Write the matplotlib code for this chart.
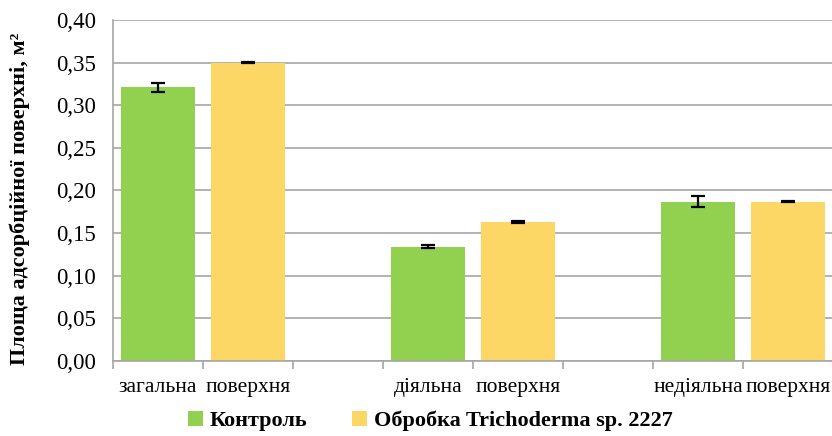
import matplotlib.pyplot as plt
from matplotlib.ticker import FixedLocator, FuncFormatter

plt.rcParams["font.family"] = ["Liberation Serif", "DejaVu Serif"]

# category slots as in the original sheet (one bar per slot)
slot_labels = ["загальна", "поверхня", "", "діяльна", "поверхня", "", "недіяльна", "поверхня"]
control_pos = [0, 3, 6]
treated_pos = [1, 4, 7]
control = [0.321, 0.134, 0.187]
control_err = [0.005, 0.002, 0.006]
treated = [0.350, 0.163, 0.187]
treated_err = [0.001, 0.0015, 0.001]

green = "#92D050"
yellow = "#FDD766"
grey = "#A6A6A6"

fig = plt.figure(figsize=(8.32, 4.36), dpi=100)
ax = fig.add_axes([113 / 832, 75 / 436, 719 / 832, 341 / 436])

err_kw = dict(ecolor="black", elinewidth=1.6, capsize=5, capthick=1.6)
ax.bar(control_pos, control, width=0.83, color=green, yerr=control_err,
       error_kw=err_kw, label="Контроль", zorder=2)
ax.bar(treated_pos, treated, width=0.83, color=yellow, yerr=treated_err,
       error_kw=err_kw, label="Обробка Trichoderma sp. 2227", zorder=2)

ax.set_xlim(-0.5, 7.49)
ax.set_ylim(0, 0.40)
ax.set_yticks([i * 0.05 for i in range(9)])
ax.yaxis.set_major_formatter(FuncFormatter(lambda v, _: f"{v:.2f}".replace(".", ",")))
ax.yaxis.grid(True, color=grey, linewidth=1.2, zorder=0)
ax.set_axisbelow(True)

ax.set_xticks(range(len(slot_labels)))
ax.set_xticklabels(slot_labels)
ax.xaxis.set_minor_locator(FixedLocator([i - 0.5 for i in range(len(slot_labels) + 1)]))
ax.tick_params(axis="x", which="major", length=0, pad=12, labelsize=15.5)
ax.tick_params(axis="x", which="minor", length=6, color=grey, width=1.2)
ax.tick_params(axis="y", length=0, pad=12, labelsize=16.5)

for side in ["top", "right"]:
    ax.spines[side].set_visible(False)
for side in ["left", "bottom"]:
    ax.spines[side].set_color(grey)
    ax.spines[side].set_linewidth(1.2)

ax.set_ylabel("Площа адсорбційної поверхні, м²", fontsize=16, fontweight="bold")
ax.yaxis.set_label_coords(-0.115, 0.475)

fig.legend(loc="lower center", bbox_to_anchor=(0.517, -0.035), ncol=2, frameon=False,
           handlelength=0.7, handleheight=0.7, handletextpad=0.3, columnspacing=2.0,
           prop={"size": 16, "weight": "bold"})

fig.savefig("out.png", dpi=100)
